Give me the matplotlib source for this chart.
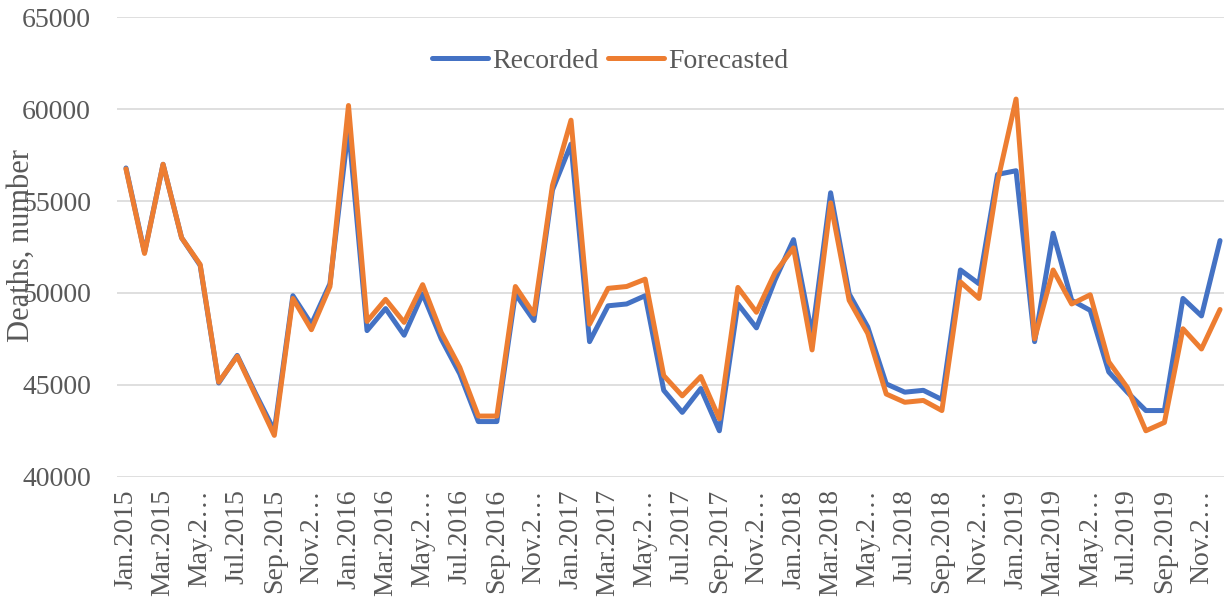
import matplotlib.pyplot as plt

# monthly deaths Jan.2015 - Dec.2019
recorded = [56800, 52200, 57000, 53000, 51500, 45100, 46600, 44500, 42500, 49850, 48300, 50500,
            59000, 47950, 49150, 47700, 49950, 47500, 45600, 43000, 43000, 49950, 48500, 55600,
            58100, 47350, 49300, 49400, 49850, 44700, 43500, 44800, 42500, 49400, 48100, 50700,
            52900, 47700, 55450, 49950, 48150, 45050, 44600, 44700, 44200, 51250, 50500, 56450,
            56650, 47350, 53250, 49600, 49050, 45700, 44600, 43600, 43600, 49700, 48750, 52850]
forecasted = [56750, 52150, 57000, 53000, 51550, 45150, 46550, 44400, 42250, 49700, 48000, 50350,
              60200, 48450, 49650, 48400, 50450, 47850, 45950, 43300, 43300, 50350, 48850, 55850,
              59400, 48300, 50250, 50350, 50750, 45500, 44400, 45450, 43150, 50300, 48950, 51100,
              52450, 46900, 54900, 49600, 47800, 44500, 44050, 44150, 43600, 50600, 49700, 56050,
              60550, 47500, 51250, 49400, 49900, 46250, 44850, 42500, 42950, 48050, 46950, 49100]
years = [2015, 2016, 2017, 2018, 2019]
months = ['Jan', 'Feb', 'Mar', 'Apr', 'May', 'Jun', 'Jul', 'Aug', 'Sep', 'Oct', 'Nov', 'Dec']

labels = []
for y in years:
    for m in months:
        if m in ('May', 'Nov'):
            labels.append(f'{m}.2\u2026')
        else:
            labels.append(f'{m}.{y}')

plt.rcParams['font.family'] = ['Liberation Serif', 'DejaVu Serif']
grey = '#595959'

fig = plt.figure(figsize=(12.24, 6), dpi=100)
ax = fig.add_axes([116.7 / 1224, 1 - 476.7 / 600, 1112.6 / 1224, 459.4 / 600])

x = list(range(len(recorded)))
ax.plot(x, recorded, color='#4472C4', lw=3.6, solid_capstyle='round', solid_joinstyle='round',
        label='Recorded', zorder=3)
ax.plot(x, forecasted, color='#ED7D31', lw=3.6, solid_capstyle='round', solid_joinstyle='round',
        label='Forecasted', zorder=4)

ax.set_xlim(-0.5, len(x) - 0.5)
ax.set_ylim(40000, 65000)
ax.set_yticks(range(40000, 65001, 5000))
ax.set_xticks(x[::2])
ax.set_xticklabels(labels[::2], rotation=90, va='top', ha='center')
ax.tick_params(axis='both', length=0, labelsize=20, colors=grey)
ax.tick_params(axis='y', pad=18.5)
ax.tick_params(axis='x', pad=9)
ax.grid(axis='y', color='#d9d9d9', lw=1.2)
ax.set_axisbelow(True)
for s in ax.spines.values():
    s.set_visible(False)

fig.text(21 / 1224, 1 - 246 / 600, 'Deaths, number', rotation=90, ha='center', va='center',
         fontsize=22, color=grey)

fig.legend(loc='center', bbox_to_anchor=(610 / 1224, 1 - 61 / 600), ncol=2, frameon=False,
           fontsize=20, handlelength=2.0, handletextpad=0.15, columnspacing=0.35,
           labelcolor=grey)

fig.savefig('out.png', dpi=100)
